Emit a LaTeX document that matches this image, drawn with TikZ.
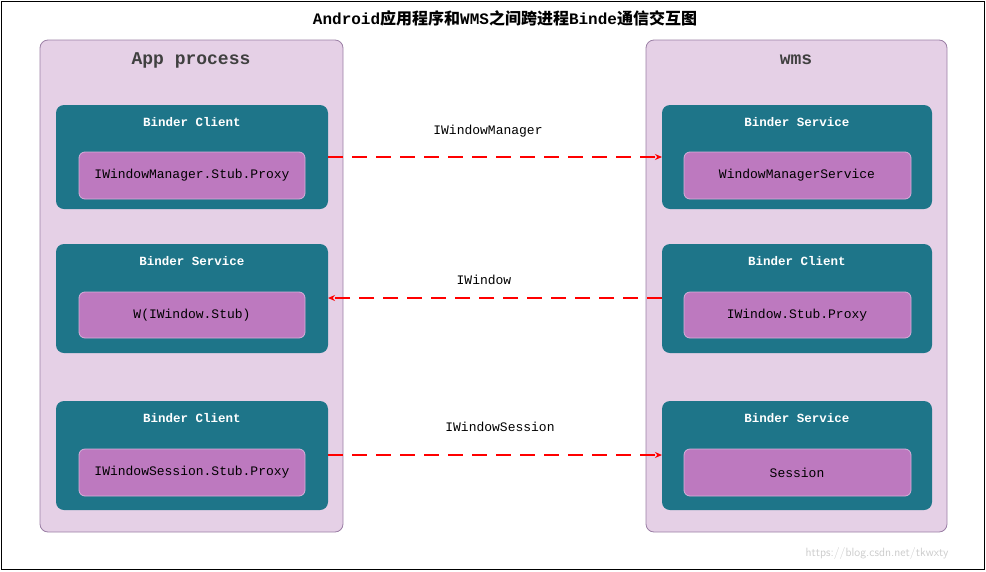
\documentclass[tikz,border=0pt]{standalone}
\usepackage{fontspec}
\setmainfont{Liberation Mono}
\newfontfamily\cjk{Noto Sans CJK SC}
\usetikzlibrary{arrows.meta}
\definecolor{teal1}{HTML}{1E7589}
\definecolor{purp}{HTML}{BD79BF}
\definecolor{panel}{HTML}{E5D0E6}
\definecolor{panelb}{HTML}{9B7FA5}
\begin{document}
\begin{tikzpicture}[x=1pt,y=-1pt,
  panel/.style={draw=panelb,fill=panel,rounded corners=8pt,line width=0.8pt},
  tbox/.style={fill=teal1,rounded corners=8pt},
  pbox/.style={draw=purp!60!white,fill=purp,rounded corners=6pt,line width=0.8pt},
  hdr/.style={text=white,font=\bfseries\fontsize{12.5}{14}\selectfont},
  lbl/.style={font=\fontsize{13}{15}\selectfont},
  arr/.style={red,line width=1.4pt,dash pattern=on 15pt off 9pt,-{Stealth[length=7pt,width=6pt]}}]
\useasboundingbox (0,0) rectangle (986,571);
\draw[black,line width=0.6pt] (1.5,1.5) rectangle (984.5,569.5);
\node (title) at (505,18) {\bfseries\fontsize{16}{18}\selectfont Android{\cjk 应用程序和}WMS{\cjk 之间跨进程}Binde{\cjk 通信交互图}};
\draw[panel] (40,40) rectangle (343,532);
\draw[panel] (646,40) rectangle (947,532);
\node (lt) at (191,60) {\bfseries\fontsize{18}{20}\selectfont\color{black!75}App process};
\node (rt) at (796,60) {\bfseries\fontsize{18}{20}\selectfont\color{black!75}wms};
\foreach \ya/\yb/\yh/\pa/\pb/\h/\t/\n in {105/209/122/152/199/Binder Client/IWindowManager.Stub.Proxy/l1,244/353/261/292/338/Binder Service/W(IWindow.Stub)/l2,401/510/418/449/496/Binder Client/IWindowSession.Stub.Proxy/l3}{
  \fill[tbox] (56,\ya) rectangle (328,\yb);
  \node[hdr] at (192,\yh) {\h};
  \draw[pbox] (79,\pa) rectangle (305,\pb);
  \node[lbl] (\n) at (192,{(\pa+\pb)/2}) {\t};
}
\foreach \ya/\yb/\yh/\pa/\pb/\h/\t/\n in {105/209/122/152/199/Binder Service/WindowManagerService/r1,244/353/261/292/338/Binder Client/IWindow.Stub.Proxy/r2,401/510/418/449/496/Binder Service/Session/r3}{
  \fill[tbox] (662,\ya) rectangle (932,\yb);
  \node[hdr] at (797,\yh) {\h};
  \draw[pbox] (684,\pa) rectangle (911,\pb);
  \node[lbl] (\n) at (797,{(\pa+\pb)/2}) {\t};
}
\coordinate (a1) at (328,157); \coordinate (b1) at (662,157);
\coordinate (a2) at (328,298); \coordinate (b2) at (662,298);
\coordinate (a3) at (328,455); \coordinate (b3) at (662,455);
\draw[arr] (a1) -- (b1);
\draw[arr] (b2) -- (a2);
\draw[arr] (a3) -- (b3);
\node[lbl] at (488,131) {IWindowManager};
\node[lbl] at (484,280) {IWindow};
\node[lbl] at (500,427) {IWindowSession};
\node[text=black!20,font=\sffamily\fontsize{12}{14}\selectfont] at (877,553) {https://blog.csdn.net/tkwxty};
\end{tikzpicture}
\end{document}
